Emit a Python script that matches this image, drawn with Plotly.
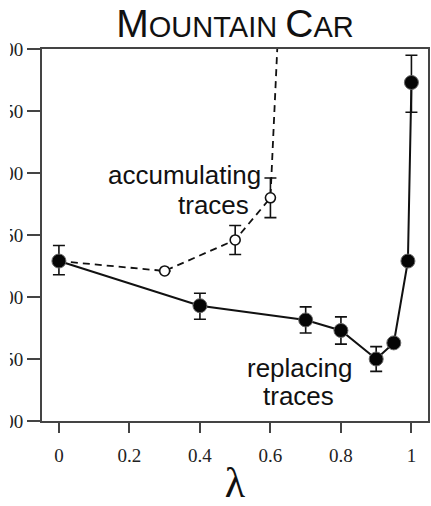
import plotly.graph_objects as go

# Replacing traces (solid)
rep_lambda = [0, 0.4, 0.7, 0.8, 0.9, 0.95, 0.99, 1.0]
rep_steps = [529, 493, 481.5, 473, 450, 463, 529, 673]
rep_err_up = [12.5, 10, 10.5, 11, 10, 0, 0, 22]
rep_err_down = [11, 11, 10.5, 11, 10, 0, 0, 24]

# Accumulating traces (dashed)
acc_lambda = [0, 0.3, 0.5, 0.6, 0.7]
acc_steps = [529, 521, 546, 580, 1200]
acc_err = [0, 0, 11.7, 16, 0]

y_ticks = [400, 450, 500, 550, 600, 650, 700]
x_ticks = [0, 0.2, 0.4, 0.6, 0.8, 1]

fig = go.Figure()

fig.add_trace(go.Scatter(
    x=acc_lambda, y=acc_steps, mode="lines+markers",
    line=dict(color="#111", width=1.8, dash="7px,5px"),
    marker=dict(size=10, color="white", line=dict(color="#111", width=1.6)),
    error_y=dict(type="data", array=acc_err, symmetric=True,
                 color="#111", thickness=1.6, width=6),
    cliponaxis=True, showlegend=False,
))

fig.add_trace(go.Scatter(
    x=rep_lambda, y=rep_steps, mode="lines+markers",
    line=dict(color="#111", width=2),
    marker=dict(size=14, color="#050505", line=dict(color="#666", width=1)),
    error_y=dict(type="data", array=rep_err_up, arrayminus=rep_err_down,
                 symmetric=False, color="#111", thickness=1.6, width=6),
    cliponaxis=True, showlegend=False,
))

ann_font = dict(family="Liberation Sans, Arial, sans-serif", size=26, color="#111")
fig.add_annotation(x=0.357, y=598, text="accumulating", showarrow=False,
                   font=ann_font, xanchor="center", yanchor="middle")
fig.add_annotation(x=0.439, y=574, text="traces", showarrow=False,
                   font=ann_font, xanchor="center", yanchor="middle")
fig.add_annotation(x=0.683, y=443, text="replacing", showarrow=False,
                   font=ann_font, xanchor="center", yanchor="middle")
fig.add_annotation(x=0.68, y=420, text="traces", showarrow=False,
                   font=ann_font, xanchor="center", yanchor="middle")

# white strip at the far left, cropping the y tick labels like the reference
fig.add_shape(type="rect", xref="paper", yref="paper",
              x0=-0.2, x1=-0.083, y0=-0.3, y1=1.2,
              fillcolor="white", line=dict(width=0), layer="above")

fig.update_layout(
    width=431, height=506,
    margin=dict(l=42, r=3, t=49, b=85, autoexpand=False),
    paper_bgcolor="white", plot_bgcolor="white",
    title=dict(
        text="<span style='font-size:39px'>M</span>OUNTAIN <span style='font-size:39px'>C</span>AR",
        font=dict(family="Liberation Sans, Arial, sans-serif", size=29, color="#111"),
        x=0.5, xref="paper", xanchor="center",
        y=0.947, yref="container", yanchor="middle",
    ),
    xaxis=dict(
        range=[-0.048, 1.047], tickvals=x_ticks, ticktext=[str(v) for v in x_ticks],
        showgrid=False, zeroline=False,
        showline=True, linecolor="#444", linewidth=2, mirror=True,
        ticks="outside", ticklen=10, tickwidth=2, tickcolor="#444",
        ticklabelstandoff=6,
        tickfont=dict(family="Liberation Serif, Times New Roman, serif", size=19, color="#222"),
        title=dict(text="λ", standoff=4,
                   font=dict(family="Liberation Serif, Times New Roman, serif", size=42, color="#111")),
        automargin=False,
    ),
    yaxis=dict(
        range=[400, 700], tickvals=y_ticks,
        showgrid=False, zeroline=False,
        showline=True, linecolor="#444", linewidth=2, mirror=True,
        ticks="outside", ticklen=13, tickwidth=2, tickcolor="#444",
        tickfont=dict(family="Liberation Serif, Times New Roman, serif", size=19, color="#222"),
        automargin=False,
    ),
)

fig.write_html("out.html")
